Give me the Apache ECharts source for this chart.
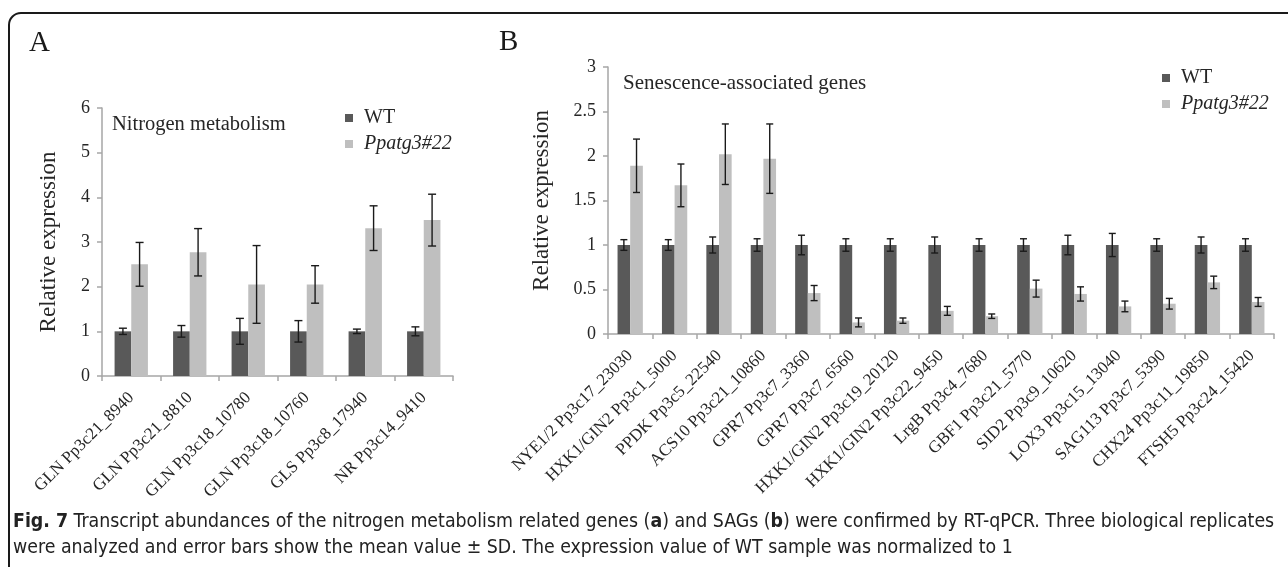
<!DOCTYPE html>
<html>
<head>
<meta charset="utf-8">
<script src="https://cdn.jsdelivr.net/npm/echarts@6/dist/echarts.min.js"></script>
<style>
html,body{margin:0;padding:0;background:#fff;}
#c{width:1288px;height:567px;}
</style>
</head>
<body>
<div id="c"></div>
<script>
// ---- Data ----
const catA = ['GLN Pp3c21_8940','GLN Pp3c21_8810','GLN Pp3c18_10780','GLN Pp3c18_10760','GLS Pp3c8_17940','NR Pp3c14_9410'];
const wtA = [1,1,1,1,1,1];
const wtAErr = [0.07,0.13,0.29,0.24,0.05,0.10];
const mutA = [2.50,2.77,2.05,2.05,3.31,3.49];
const mutAErr = [0.49,0.53,0.87,0.42,0.50,0.58];

const catB = ['NYE1/2 Pp3c17_23030','HXK1/GIN2 Pp3c1_5000','PPDK Pp3c5_22540','ACS10 Pp3c21_10860','GPR7 Pp3c7_3360','GPR7 Pp3c7_6560','HXK1/GIN2 Pp3c19_20120','HXK1/GIN2 Pp3c22_9450','LrgB Pp3c4_7680','GBF1 Pp3c21_5770','SID2 Pp3c9_10620','LOX3 Pp3c15_13040','SAG113 Pp3c7_5390','CHX24 Pp3c11_19850','FTSH5 Pp3c24_15420'];
const wtB = [1,1,1,1,1,1,1,1,1,1,1,1,1,1,1];
const wtBErr = [0.06,0.06,0.09,0.07,0.11,0.07,0.07,0.09,0.07,0.07,0.11,0.13,0.07,0.09,0.07];
const mutB = [1.89,1.67,2.02,1.97,0.46,0.13,0.15,0.26,0.20,0.51,0.45,0.31,0.34,0.58,0.36];
const mutBErr = [0.30,0.24,0.34,0.39,0.085,0.05,0.03,0.05,0.025,0.095,0.08,0.06,0.06,0.07,0.05];

const yTicksA = [0,1,2,3,4,5,6];
const yTicksB = [0,0.5,1,1.5,2,2.5,3];
const seriesNames = ['WT','Ppatg3#22'];

// ---- Styles ----
const SERIF = '"Liberation Serif","Times New Roman",serif';
const CAPF = '"Liberation Sans Narrow","DejaVu Sans Condensed",sans-serif';
const DARK = '#595959', LIGHT = '#bfbfbf', AXIS = '#a6a6a6', TXT = '#262626';

function errData(vals, errs){ return vals.map((v,i)=>[i, v, errs[i]]); }

function errSeries(name, xi, vals, errs, side, cap){
  return {
    type:'custom', name: name + ' err', xAxisIndex:xi, yAxisIndex:xi, z:5,
    encode:{x:0,y:1}, silent:true,
    data: errData(vals, errs),
    renderItem: function(params, api){
      const i = api.value(0), v = api.value(1), e = api.value(2);
      const bw = api.size([1,0])[0];
      const off = side * bw * 0.1425;
      const hi = api.coord([i, v+e]), lo = api.coord([i, v-e]);
      const x = hi[0] + off;
      const st = {stroke:'#1a1a1a', lineWidth:1.4};
      return {type:'group', children:[
        {type:'line', shape:{x1:x,y1:hi[1],x2:x,y2:lo[1]}, style:st},
        {type:'line', shape:{x1:x-cap,y1:hi[1],x2:x+cap,y2:hi[1]}, style:st},
        {type:'line', shape:{x1:x-cap,y1:lo[1],x2:x+cap,y2:lo[1]}, style:st}
      ]};
    }
  };
}

function barSeries(name, xi, vals, color){
  return {type:'bar', name:name, xAxisIndex:xi, yAxisIndex:xi, data:vals,
    barGap:'0%', barCategoryGap:'43%', itemStyle:{color:color}, z:2};
}

function xAxis(gi, cats, fs){
  return {type:'category', gridIndex:gi, data:cats,
    axisLine:{lineStyle:{color:AXIS,width:1.5}},
    axisTick:{show:true, length:5, lineStyle:{color:AXIS,width:1.5}},
    axisLabel:{rotate:45, interval:0, margin:19, color:TXT, fontFamily:SERIF, fontSize:fs}};
}
function yAxis(gi, max, interval, ticks){
  return {type:'value', gridIndex:gi, min:0, max:max, interval:interval,
    axisLine:{show:true, lineStyle:{color:AXIS,width:1.5}},
    axisTick:{show:true, length:5, lineStyle:{color:AXIS,width:1.5}},
    splitLine:{show:false},
    axisLabel:{color:TXT, fontFamily:SERIF, fontSize:18, margin:12,
      formatter: v => ticks.includes(v) ? String(v) : ''},
    name:'Relative expression', nameLocation:'middle', nameRotate:90,
    nameTextStyle:{color:TXT, fontFamily:SERIF, fontSize:23}};
}

const legendFmt = n => n === 'Ppatg3#22' ? '{i|' + n + '}' : n;
function legend(left, top){
  return {data:seriesNames, orient:'vertical', left:left, top:top, icon:'rect',
    itemWidth:8, itemHeight:8, itemGap:6, selectedMode:false,
    formatter: legendFmt,
    textStyle:{color:TXT, fontFamily:SERIF, fontSize:20, padding:[0,0,0,6],
      rich:{i:{fontStyle:'italic', fontFamily:SERIF, fontSize:20, color:TXT}}}};
}

const chart = echarts.init(document.getElementById('c'), null, {renderer:'canvas'});
const ya = yAxis(0, 6, 1, yTicksA); ya.nameGap = 42;
const yb = yAxis(1, 3, 0.5, yTicksB); yb.nameGap = 55;

chart.setOption({
  backgroundColor:'#fff',
  animation:false,
  grid:[
    {left:102, top:108, width:351, height:268},
    {left:608, top:67, width:666, height:267}
  ],
  xAxis:[xAxis(0, catA, 17), xAxis(1, catB, 17)],
  yAxis:[ya, yb],
  legend:[legend(340, 103), legend(1157, 63)],
  series:[
    barSeries('WT',0,wtA,DARK), barSeries('Ppatg3#22',0,mutA,LIGHT),
    barSeries('WT',1,wtB,DARK), barSeries('Ppatg3#22',1,mutB,LIGHT),
    errSeries('WT',0,wtA,wtAErr,-1,4), errSeries('Ppatg3#22',0,mutA,mutAErr,1,4),
    errSeries('WT',1,wtB,wtBErr,-1,3.5), errSeries('Ppatg3#22',1,mutB,mutBErr,1,3.5)
  ],
  graphic:[
    {type:'rect', shape:{x:9, y:13, width:1290, height:570, r:12},
      style:{fill:'none', stroke:'#1a1a1a', lineWidth:2}, silent:true},
    {type:'text', left:29, top:29, style:{text:'A', font:'29px ' + SERIF, fill:'#1a1a1a'}},
    {type:'text', left:499, top:28, style:{text:'B', font:'29px ' + SERIF, fill:'#1a1a1a'}},
    {type:'text', left:112, top:114, style:{text:'Nitrogen metabolism', font:'20.5px ' + SERIF, fill:TXT}},
    {type:'text', left:623, top:73, style:{text:'Senescence-associated genes', font:'21px ' + SERIF, fill:TXT}},
    {type:'text', left:13, top:509, style:{
      text:'{b|Fig. 7} Transcript abundances of the nitrogen metabolism related genes ({b|a}) and SAGs ({b|b}) were confirmed by RT-qPCR. Three biological replicates\nwere analyzed and error bars show the mean value ± SD. The expression value of WT sample was normalized to 1',
      fontFamily:CAPF, fontSize:19.35, fill:'#222', lineHeight:26,
      rich:{b:{fontWeight:'bold', fontFamily:CAPF, fontSize:19.35, fill:'#222', lineHeight:26}}
    }}
  ]
});
</script>
</body>
</html>
